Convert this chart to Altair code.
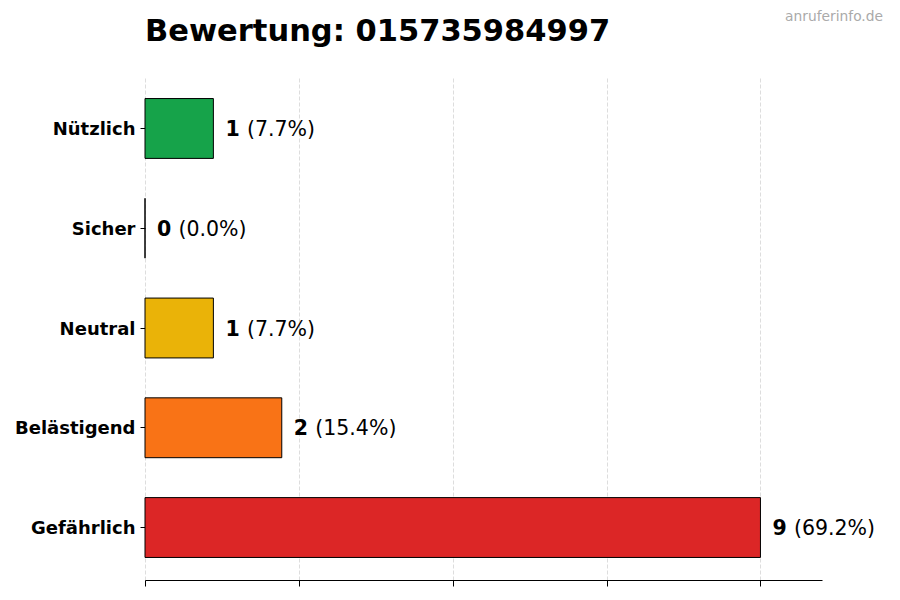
import altair as alt
import pandas as pd

categories = ["Nützlich", "Sicher", "Neutral", "Belästigend", "Gefährlich"]
counts = [1, 0, 1, 2, 9]
colors = ["#16a34a", "#9ca3af", "#eab308", "#f97316", "#dc2626"]
x_ticks = [0, 2.25, 4.5, 6.75, 9]
title_text = "Bewertung: 015735984997"
watermark = "anruferinfo.de"

total = sum(counts)
df = pd.DataFrame({
    "cat": categories,
    "count": counts,
    "color": colors,
    "pct": [f"({c / total * 100:.1f}%)" for c in counts],
    "num": [str(c) for c in counts],
})

FONT = "DejaVu Sans"

y_enc = alt.Y(
    "cat:N",
    sort=categories,
    title=None,
    scale=alt.Scale(paddingInner=0.4, paddingOuter=0.226),
    axis=alt.Axis(
        domain=False,
        ticks=True,
        tickSize=5,
        tickColor="black",
        labelFont=FONT,
        labelFontSize=18,
        labelFontWeight="bold",
        labelColor="black",
        labelPadding=5,
        labelOffset=1.5,
        grid=False,
    ),
)
x_scale = alt.Scale(domain=[0, 9.9], nice=False, zero=True)
x_axis = alt.Axis(
    values=x_ticks,
    labels=False,
    ticks=True,
    tickSize=6,
    tickColor="black",
    domain=True,
    domainColor="black",
    domainWidth=1.2,
    grid=True,
    gridColor="#d4d4d4",
    gridDash=[4, 2],
    gridWidth=0.8,
    title=None,
)

base = alt.Chart(df)

bars = base.mark_bar(stroke="black", strokeWidth=1).encode(
    y=y_enc,
    x=alt.X("count:Q", scale=x_scale, axis=x_axis),
    color=alt.Color("color:N", scale=None, legend=None),
)

num_text = base.mark_text(
    align="left", baseline="middle", dx=12, dy=1.5, font=FONT, fontSize=20.5,
    fontWeight="bold", color="black",
).encode(
    y=alt.Y("cat:N", sort=categories),
    x=alt.X("count:Q", scale=x_scale),
    text="num:N",
)

pct_text = base.mark_text(
    align="left", baseline="middle", dx=33.5, dy=1.5, font=FONT, fontSize=20.5,
    color="black",
).encode(
    y=alt.Y("cat:N", sort=categories),
    x=alt.X("count:Q", scale=x_scale),
    text="pct:N",
)

wm = alt.Chart(pd.DataFrame({"t": [watermark]})).mark_text(
    align="right", baseline="middle", font=FONT, fontSize=13.8, color="#aaaaaa",
).encode(
    x=alt.value(738),
    y=alt.value(-59),
    text="t:N",
)

title = alt.Chart(pd.DataFrame({"t": [title_text]})).mark_text(
    align="left", baseline="alphabetic", font=FONT, fontSize=30.5,
    fontWeight="bold", color="black",
).encode(
    x=alt.value(0),
    y=alt.value(-35),
    text="t:N",
)

chart = alt.layer(bars, num_text, pct_text, wm, title).properties(
    width=677,
    height=504,
    autosize=alt.AutoSizeParams(type="none"),
    padding={"left": 137, "top": 68, "right": 70, "bottom": 8},
).configure_view(stroke=None)

chart.save("out.html", embed_options={"renderer": "svg", "actions": False})
